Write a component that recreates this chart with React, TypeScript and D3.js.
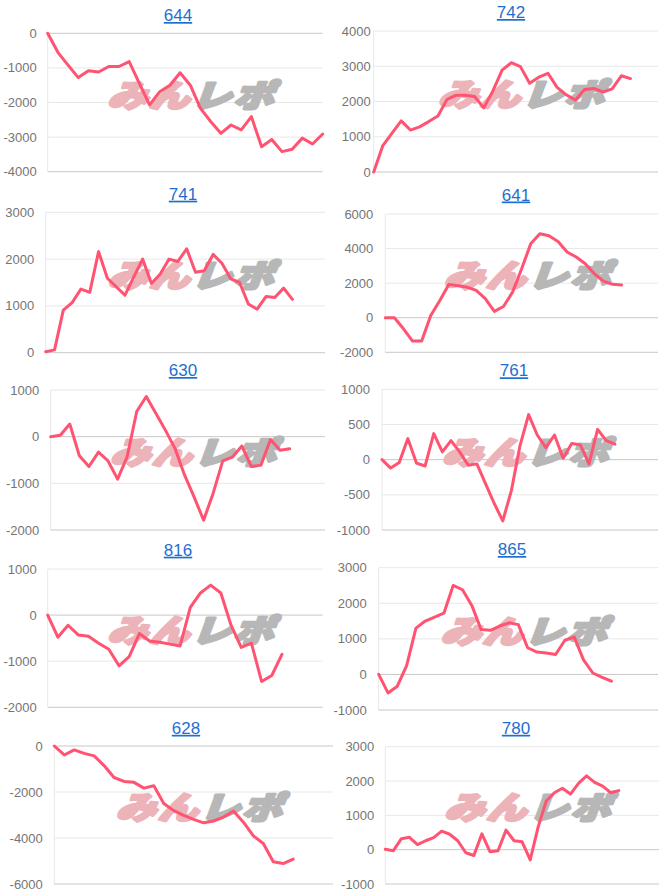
import React from "react";
import * as d3 from "d3";

// ---- data ----
const titles = ["644", "742", "741", "641", "630", "761", "816", "865", "628", "780"];

const series644 = [0, -550, -920, -1280, -1080, -1120, -960, -960, -820, -1450, -2070, -1690, -1500, -1140, -1500, -2170, -2550, -2890, -2650, -2790, -2410, -3280, -3070, -3420, -3350, -3030, -3200, -2910];
const series742 = [0, 750, 1100, 1450, 1190, 1280, 1430, 1590, 2060, 2180, 2180, 2140, 1820, 2300, 2890, 3100, 2990, 2520, 2690, 2800, 2400, 2190, 2040, 2340, 2370, 2270, 2360, 2730, 2650];
const series741 = [20, 60, 910, 1070, 1360, 1290, 2160, 1590, 1410, 1230, 1620, 2000, 1480, 1680, 2000, 1950, 2220, 1720, 1750, 2100, 1910, 1580, 1500, 1040, 930, 1200, 1180, 1380, 1140];
const series641 = [0, 0, -640, -1350, -1350, 130, 1000, 1930, 1850, 1770, 1580, 1100, 370, 650, 1480, 2830, 4280, 4860, 4740, 4410, 3800, 3510, 3120, 2540, 2120, 1930, 1900];
const series630 = [0, 30, 270, -410, -640, -330, -520, -910, -430, 540, 860, 500, 140, -250, -820, -1290, -1790, -1210, -520, -440, -200, -640, -610, -60, -290, -260];
const series761 = [0, -120, -40, 300, -50, -90, 370, 110, 270, 110, -80, -60, -340, -620, -870, -440, 200, 640, 350, 170, 350, 20, 230, 210, -60, 430, 270, 220];
const series816 = [0, -480, -220, -430, -460, -610, -740, -1100, -900, -400, -560, -590, -630, -670, 170, 480, 650, 480, -220, -700, -610, -1440, -1310, -850];
const series865 = [0, -520, -330, 250, 1300, 1500, 1610, 1720, 2500, 2380, 1940, 1260, 1240, 1360, 1450, 1400, 750, 630, 600, 560, 960, 1050, 410, 40, -80, -190];
const series628 = [0, -390, -170, -320, -430, -850, -1370, -1540, -1580, -1830, -1730, -2500, -2810, -3020, -3190, -3340, -3260, -3090, -2830, -3310, -3910, -4240, -5030, -5110, -4920];
const series780 = [10, -30, 320, 360, 150, 260, 350, 540, 450, 260, -90, -170, 460, -60, -30, 570, 260, 230, -300, 670, 1420, 1660, 1790, 1620, 1930, 2150, 1960, 1850, 1660, 1720];

const ticks644 = [0, -1000, -2000, -3000, -4000];
const ticks742 = [4000, 3000, 2000, 1000, 0];
const ticks741 = [3000, 2000, 1000, 0];
const ticks641 = [6000, 4000, 2000, 0, -2000];
const ticks630 = [1000, 0, -1000, -2000];
const ticks761 = [1000, 500, 0, -500, -1000];
const ticks816 = [1000, 0, -1000, -2000];
const ticks865 = [3000, 2000, 1000, 0, -1000];
const ticks628 = [0, -2000, -4000, -6000];
const ticks780 = [3000, 2000, 1000, 0, -1000];

const seriesList = [series644, series742, series741, series641, series630, series761, series816, series865, series628, series780];
const tickList = [ticks644, ticks742, ticks741, ticks641, ticks630, ticks761, ticks816, ticks865, ticks628, ticks780];

// ---- layout (positions only) ----
const frames = [
  { left: 47.7, right: 322.7, top: 33.3, bottom: 171.7, span: 27, tx: 178, ty: 15, gap: 11 },
  { left: 373.7, right: 658, top: 31, bottom: 172, span: 31, tx: 511, ty: 12, gap: 3 },
  { left: 45.7, right: 325, top: 212.3, bottom: 352.7, span: 31.7, tx: 183, ty: 193.7, gap: 11.5 },
  { left: 385.3, right: 658, top: 214, bottom: 352.3, span: 30, tx: 516, ty: 194.5, gap: 12 },
  { left: 50.7, right: 325, top: 390, bottom: 530, span: 28.7, tx: 183, ty: 370, gap: 11.5 },
  { left: 382, right: 658, top: 389.3, bottom: 530, span: 32, tx: 514, ty: 370.3, gap: 12 },
  { left: 47.7, right: 322.7, top: 569, bottom: 707.3, span: 27, tx: 178, ty: 549.7, gap: 11 },
  { left: 378.7, right: 658, top: 567.7, bottom: 710, span: 30, tx: 512, ty: 549, gap: 12 },
  { left: 54.3, right: 333, top: 746, bottom: 884, span: 28, tx: 186, ty: 727.8, gap: 11.5 },
  { left: 385.3, right: 659, top: 746.7, bottom: 884, span: 34, tx: 516, ty: 727.8, gap: 11 },
];

const LINE = "#ff5371";
const GRID = "#e8e8e8";
const BASE = "#c8c8c8";
const LABEL = "#757575";
const TITLE = "#1f6fd0";
const FONT = "'Liberation Sans', Arial, sans-serif";

function Panel({ i }: { i: number }) {
  const f = frames[i];
  const data = seriesList[i];
  const ticks = tickList[i];
  const y = d3.scaleLinear().domain([d3.min(ticks) as number, d3.max(ticks) as number]).range([f.bottom, f.top]);
  const x = d3.scaleLinear().domain([0, f.span]).range([f.left, f.right]);
  const line = d3.line<number>().x((_, k) => x(k)).y((d) => y(d));
  const cx = (f.left + f.right) / 2 + 11;
  const cy = (f.top + f.bottom) / 2 - 9.5;
  const yMin = d3.min(ticks) as number;
  return (
    <g>
      <text x={f.tx} y={f.ty + 6} textAnchor="middle" fontFamily={FONT} fontSize={17} fill={TITLE} style={{ textDecoration: "underline" }}>
        {titles[i]}
      </text>
      <line x1={f.left} x2={f.left} y1={f.top} y2={f.bottom} stroke={GRID} strokeWidth={1} />
      {ticks.map((t) => (
        <g key={t}>
          <line x1={f.left} x2={f.right} y1={y(t)} y2={y(t)} stroke={t === 0 || t === yMin ? BASE : GRID} strokeWidth={1} />
          <text x={f.left - f.gap} y={y(t) + 4.5} textAnchor="end" fontFamily={FONT} fontSize={13} fill={LABEL}>
            {t}
          </text>
        </g>
      ))}
      <g transform={`translate(${cx},${cy}) scale(1.05,0.82) skewX(-16)`}>
        <text x={0} y={0} textAnchor="middle" dominantBaseline="central" fontFamily="'Noto Sans CJK JP', sans-serif" fontWeight={900} fontSize={38} letterSpacing={2}>
          <tspan fill="#ecb4b8" stroke="#ecb4b8" strokeWidth={3.5} strokeLinejoin="round">みん</tspan>
          <tspan fill="#b7b7b7" stroke="#b7b7b7" strokeWidth={3.5} strokeLinejoin="round">レポ</tspan>
        </text>
      </g>
      <path d={line(data) || ""} fill="none" stroke={LINE} strokeWidth={3} strokeLinejoin="round" strokeLinecap="round" />
    </g>
  );
}

export default function App() {
  return (
    <svg width={666} height={890} style={{ position: "absolute", left: 0, top: 0, background: "#fff" }}>
      {titles.map((_, i) => (
        <Panel key={i} i={i} />
      ))}
    </svg>
  );
}
